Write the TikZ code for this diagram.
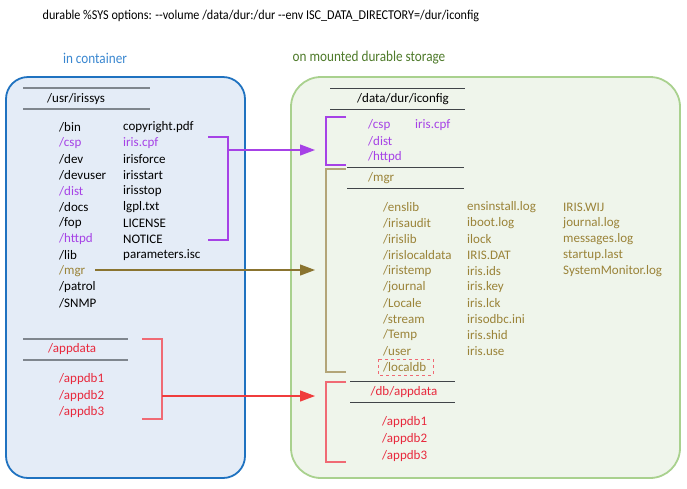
\documentclass[tikz,border=0pt]{standalone}
\usepackage{fontspec}
\setmainfont{Carlito}
\usetikzlibrary{arrows.meta}
\definecolor{boxblue}{HTML}{1F72C0}
\definecolor{fillblue}{HTML}{E4ECF7}
\definecolor{boxgreen}{HTML}{A9D18E}
\definecolor{fillgreen}{HTML}{EFF5EB}
\definecolor{hdrblue}{HTML}{3A87D0}
\definecolor{hdrgreen}{HTML}{4E7A2A}
\definecolor{purp}{HTML}{A642E6}
\definecolor{olive}{HTML}{9A8338}
\definecolor{oliveline}{HTML}{8A7430}
\definecolor{redtxt}{HTML}{E8283C}
\definecolor{redline}{HTML}{F06A74}
\definecolor{redarrow}{HTML}{F03C3C}
\definecolor{rulegray}{HTML}{7F868E}
\definecolor{ruledark}{HTML}{404448}
\tikzset{
  txt/.style={anchor=west, inner sep=0pt, font=\fontsize{13}{15}\selectfont},
  ctr/.style={anchor=center, inner sep=0pt, font=\fontsize{13}{15}\selectfont},
  hdr/.style={anchor=center, inner sep=0pt, font=\fontsize{15}{17}\selectfont, transform shape, xscale=0.88},
  leftrule/.style={draw=rulegray, line width=1.8pt},
  rightrule/.style={draw=ruledark, line width=1pt},
  bracket/.style={line width=1.3pt},
  tip/.style={-{Triangle[length=15pt,width=11pt]}},
}
\begin{document}
\begin{tikzpicture}[x=1pt,y=-1pt]
\useasboundingbox (0,0) rectangle (687,488);
% title
\node[ctr, font=\fontsize{13.5}{15}\selectfont, transform shape, xscale=0.9] (title) at (261,16) {durable \%SYS options: -{}-volume /data/dur:/dur -{}-env ISC\_DATA\_DIRECTORY=/dur/iconfig};
\node[hdr, text=hdrblue] (hleft) at (95,58) {in container};
\node[hdr, text=hdrgreen] (hright) at (369,58) {on mounted durable storage};
% boxes
\draw[draw=boxblue, fill=fillblue, line width=1.8pt, rounded corners=22pt] (6,77) rectangle (245,478);
\draw[draw=boxgreen, fill=fillgreen, line width=1.8pt, rounded corners=30pt] (291,77) rectangle (680,478);

% ---- left box
\draw[leftrule] (23,88) -- (150,88);
\node[txt] (usr) at (47,99) {/usr/irissys};
\draw[leftrule] (23,109) -- (150,109);
\node[txt] (bin) at (59,127) {/bin};
\node[txt, text=purp] (csp) at (59,143) {/csp};
\node[txt] (dev) at (59,159) {/dev};
\node[txt] (devuser) at (59,175) {/devuser};
\node[txt, text=purp] (dist) at (59,191) {/dist};
\node[txt] (docs) at (59,207) {/docs};
\node[txt] (fop) at (59,223) {/fop};
\node[txt, text=purp] (httpd) at (59,239) {/httpd};
\node[txt] (lib) at (59,255) {/lib};
\node[txt, text=olive] (mgr) at (59,271) {/mgr};
\node[txt] (patrol) at (59,287) {/patrol};
\node[txt] (snmp) at (59,303) {/SNMP};
\node[txt] (copy) at (123,127) {copyright.pdf};
\node[txt, text=purp] (cpf) at (123,143) {iris.cpf};
\node[txt] (force) at (123,159) {irisforce};
\node[txt] (start) at (123,175) {irisstart};
\node[txt] (stop) at (123,191) {irisstop};
\node[txt] (lgpl) at (123,207) {lgpl.txt};
\node[txt] (lic) at (123,223) {LICENSE};
\node[txt] (notice) at (123,239) {NOTICE};
\node[txt] (params) at (123,255) {parameters.isc};

\draw[leftrule] (23,339) -- (128,339);
\node[txt, text=redtxt] (appdata) at (48,349) {/appdata};
\draw[leftrule] (23,360) -- (128,360);
\node[txt, text=redtxt] (a1) at (59,379) {/appdb1};
\node[txt, text=redtxt] (a2) at (59,396) {/appdb2};
\node[txt, text=redtxt] (a3) at (59,412) {/appdb3};

% left brackets
\draw[bracket, purp] (208,137) -- (228,137) -- (228,240) -- (208,240);
\coordinate (pmid) at (228,150);
\draw[bracket, draw=redline] (142,339) -- (162,339) -- (162,419) -- (142,419);
\coordinate (rmid) at (162,396);
\coordinate (mgrend) at (95,270);

% ---- right box
\draw[rightrule] (330,88) -- (465,88);
\node[ctr] (iconfig) at (403,99) {/data/dur/iconfig};
\draw[rightrule] (330,109) -- (465,109);
\node[txt, text=purp] (rcsp) at (368,125) {/csp};
\node[txt, text=purp] (rcpf) at (415,125) {iris.cpf};
\node[txt, text=purp] (rdist) at (368,141) {/dist};
\node[txt, text=purp] (rhttpd) at (368,157) {/httpd};
\draw[bracket, purp] (346,117) -- (326,117) -- (326,165) -- (346,165);
\coordinate (ptip) at (315,150);

\draw[rightrule] (347,167) -- (464,167);
\node[txt, text=olive] (rmgr) at (368,178) {/mgr};
\draw[rightrule] (347,188) -- (464,188);
\draw[bracket, draw=oliveline!65!white] (346,169) -- (326,169) -- (326,372) -- (346,372);
\coordinate (otip) at (315,270);

\node[txt, text=olive] (enslib) at (383,207) {/enslib};
\node[txt, text=olive] (audit) at (383,223) {/irisaudit};
\node[txt, text=olive] (irislib) at (383,239) {/irislib};
\node[txt, text=olive] (localdata) at (383,255) {/irislocaldata};
\node[txt, text=olive] (iristemp) at (383,271) {/iristemp};
\node[txt, text=olive] (journal) at (383,287) {/journal};
\node[txt, text=olive] (locale) at (383,303) {/Locale};
\node[txt, text=olive] (stream) at (383,319) {/stream};
\node[txt, text=olive] (temp) at (383,335) {/Temp};
\node[txt, text=olive] (user) at (383,351) {/user};
\node[txt, text=olive] (localdb) at (383,367) {/localdb};
\draw[draw=redline, dashed, line width=0.9pt] (378,359) rectangle (433,375);

\node[txt, text=olive] (ensinst) at (467,207) {ensinstall.log};
\node[txt, text=olive] (iboot) at (467,223) {iboot.log};
\node[txt, text=olive] (ilock) at (467,239) {ilock};
\node[txt, text=olive] (irisdat) at (467,255) {IRIS.DAT};
\node[txt, text=olive] (ids) at (467,271) {iris.ids};
\node[txt, text=olive] (key) at (467,287) {iris.key};
\node[txt, text=olive] (lck) at (467,303) {iris.lck};
\node[txt, text=olive] (odbc) at (467,319) {irisodbc.ini};
\node[txt, text=olive] (shid) at (467,335) {iris.shid};
\node[txt, text=olive] (use) at (467,351) {iris.use};

\node[txt, text=olive] (wij) at (563,207) {IRIS.WIJ};
\node[txt, text=olive] (jlog) at (563,223) {journal.log};
\node[txt, text=olive] (msg) at (563,239) {messages.log};
\node[txt, text=olive] (slast) at (563,255) {startup.last};
\node[txt, text=olive] (sysmon) at (563,271) {SystemMonitor.log};

\draw[rightrule] (350,381) -- (455,381);
\node[ctr, text=redtxt] (dbapp) at (404,392) {/db/appdata};
\draw[rightrule] (350,402) -- (455,402);
\node[txt, text=redtxt] (r1) at (382,422) {/appdb1};
\node[txt, text=redtxt] (r2) at (382,439) {/appdb2};
\node[txt, text=redtxt] (r3) at (382,456) {/appdb3};
\draw[bracket, draw=redline] (346,382) -- (326,382) -- (326,462) -- (346,462);
\coordinate (rtip) at (315,396);

% connectors
\draw[tip, purp, line width=1.2pt] (pmid) -- (ptip);
\draw[tip, oliveline, line width=1.2pt] (mgrend) -- (otip);
\draw[tip, redarrow, line width=1.2pt] (rmid) -- (rtip);
\end{tikzpicture}
\end{document}
